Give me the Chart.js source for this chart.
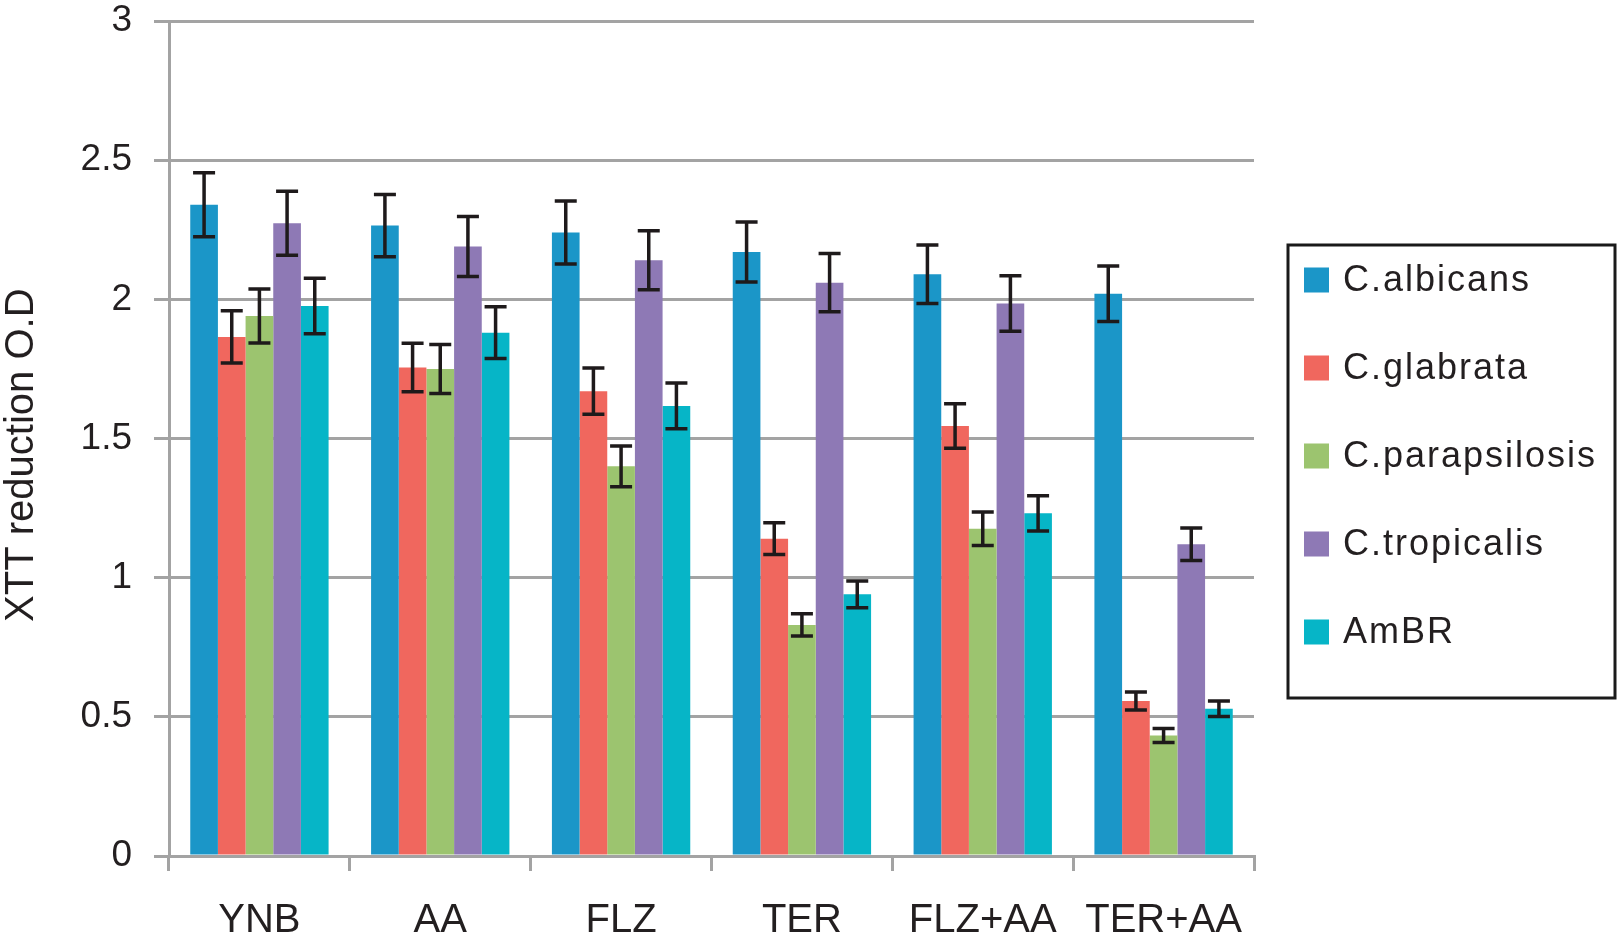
<!DOCTYPE html>
<html>
<head>
<meta charset="utf-8">
<script src="https://cdn.jsdelivr.net/npm/chart.js@4/dist/chart.umd.min.js"></script>
<style>
  html, body { margin: 0; padding: 0; background: #fff; }
  #wrap { position: relative; width: 1619px; height: 944px; }
</style>
</head>
<body>
<div id="wrap"><canvas id="chart"></canvas></div>
<script>
const categories = ['YNB', 'AA', 'FLZ', 'TER', 'FLZ+AA', 'TER+AA'];

const albicans = [2.34, 2.265, 2.24, 2.17, 2.09, 2.02];
const albicansErr = [0.115, 0.112, 0.113, 0.108, 0.105, 0.10];

const glabrata = [1.865, 1.755, 1.67, 1.14, 1.545, 0.557];
const glabrataErr = [0.094, 0.087, 0.083, 0.057, 0.08, 0.032];

const parapsilosis = [1.94, 1.75, 1.40, 0.83, 1.176, 0.433];
const parapsilosisErr = [0.097, 0.088, 0.073, 0.04, 0.06, 0.025];

const tropicalis = [2.273, 2.19, 2.14, 2.06, 1.985, 1.12];
const tropicalisErr = [0.115, 0.108, 0.106, 0.105, 0.10, 0.058];

const ambr = [1.976, 1.88, 1.617, 0.94, 1.231, 0.529];
const ambrErr = [0.10, 0.093, 0.082, 0.048, 0.063, 0.028];

const FONT = "'Liberation Sans', Arial, Helvetica, sans-serif";
const TEXT = '#231f20';
const GRID = '#a3a3a3';

// whiskers for each bar, drawn from the y scale
const errorBars = {
  id: 'errorBars',
  afterDatasetsDraw(chart) {
    const { ctx, scales: { y } } = chart;
    const cap = 11;
    ctx.save();
    ctx.strokeStyle = '#1e1a1b';
    ctx.lineWidth = 3.5;
    chart.data.datasets.forEach((ds, i) => {
      const meta = chart.getDatasetMeta(i);
      meta.data.forEach((bar, j) => {
        const v = ds.data[j];
        const e = ds.errors[j];
        const top = y.getPixelForValue(v + e);
        const bottom = y.getPixelForValue(v - e);
        ctx.beginPath();
        ctx.moveTo(bar.x, top);
        ctx.lineTo(bar.x, bottom);
        ctx.moveTo(bar.x - cap, top);
        ctx.lineTo(bar.x + cap, top);
        ctx.moveTo(bar.x - cap, bottom);
        ctx.lineTo(bar.x + cap, bottom);
        ctx.stroke();
      });
    });
    ctx.restore();
  }
};

// boxed legend on the right
const boxLegend = {
  id: 'boxLegend',
  afterDraw(chart) {
    const { ctx, chartArea } = chart;
    const left = chartArea.right + 34;
    const top = 245;
    const w = 327;
    const h = 453;
    ctx.save();
    ctx.strokeStyle = '#1a1a1a';
    ctx.lineWidth = 3;
    ctx.strokeRect(left, top, w, h);
    ctx.font = '36px ' + FONT;
    ctx.letterSpacing = '2px';
    ctx.textBaseline = 'middle';
    ctx.textAlign = 'left';
    chart.data.datasets.forEach((ds, i) => {
      const cy = top + 35 + i * 88;
      ctx.fillStyle = ds.backgroundColor;
      ctx.fillRect(left + 16, cy - 12.5, 25, 25);
      ctx.fillStyle = TEXT;
      ctx.fillText(ds.label, left + 55, cy + 1);
    });
    ctx.restore();
  }
};

function series(label, data, errors, color) {
  return {
    label: label,
    data: data,
    errors: errors,
    backgroundColor: color,
    borderWidth: 0,
    categoryPercentage: 0.765,
    barPercentage: 1.0
  };
}

new Chart(document.getElementById('chart'), {
  type: 'bar',
  data: {
    labels: categories,
    datasets: [
      series('C.albicans', albicans, albicansErr, '#1b96c8'),
      series('C.glabrata', glabrata, glabrataErr, '#f0675e'),
      series('C.parapsilosis', parapsilosis, parapsilosisErr, '#9cc46f'),
      series('C.tropicalis', tropicalis, tropicalisErr, '#8e79b5'),
      series('AmBR', ambr, ambrErr, '#06b5c7')
    ]
  },
  options: {
    responsive: true,
    maintainAspectRatio: false,
    animation: false,
    devicePixelRatio: 1,
    layout: { padding: { top: 21, right: 365, bottom: 0, left: 0 } },
    plugins: {
      legend: { display: false },
      tooltip: { enabled: false }
    },
    scales: {
      x: {
        grid: {
          drawOnChartArea: false,
          drawTicks: true,
          tickLength: 15,
          color: GRID,
          lineWidth: 3,
          offset: true
        },
        border: { display: true, color: GRID, width: 3 },
        ticks: {
          font: { family: FONT, size: 40 },
          color: TEXT,
          padding: 26,
          maxRotation: 0,
          autoSkip: false
        },
        afterFit(scale) { scale.height = 88; }
      },
      y: {
        min: 0,
        max: 3,
        ticks: {
          stepSize: 0.5,
          font: { family: FONT, size: 37 },
          color: TEXT,
          padding: 22,
          callback: (v) => String(v)
        },
        grid: { color: GRID, lineWidth: 3, tickLength: 15 },
        border: { display: true, color: GRID, width: 3 },
        title: {
          display: true,
          text: 'XTT reduction O.D   ',
          font: { family: FONT, size: 40, lineHeight: 1 },
          color: TEXT,
          padding: { top: 2, bottom: 0 }
        },
        afterFit(scale) {
          scale.width = 169;
          // tick label overhang is already covered by the layout padding
          scale.paddingTop = 0;
          scale.paddingBottom = 0;
        }
      }
    }
  },
  plugins: [errorBars, boxLegend]
});
</script>
</body>
</html>
